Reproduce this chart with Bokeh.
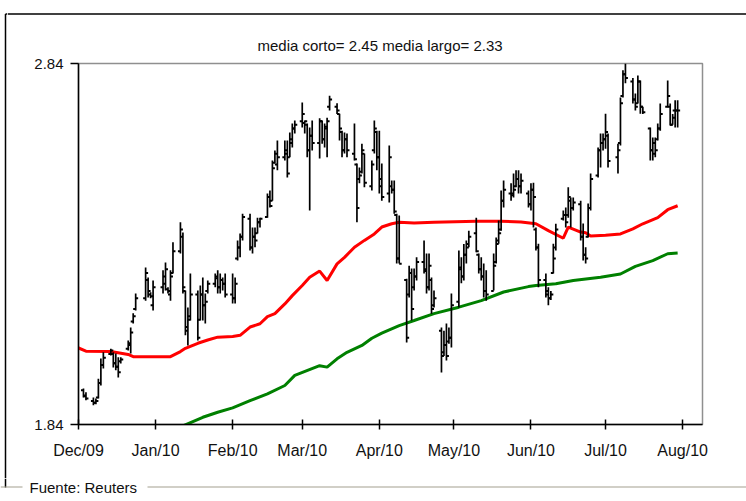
import pandas as pd
from bokeh.plotting import figure
from bokeh.layouts import column, row
from bokeh.models import (Range1d, FixedTicker, DatetimeTickFormatter, ColumnDataSource)
from bokeh.embed import file_html
from bokeh.resources import INLINE
from bokeh.core.properties import value

# ---------------- data ----------------
title_text = "media corto= 2.45 media largo= 2.33"
source_note = "Fuente: Reuters"
y_tick_values = [1.84, 2.84]
x_tick_dates = ["2009-12-01", "2010-01-01", "2010-02-01", "2010-03-01", "2010-04-01",
                "2010-05-01", "2010-06-01", "2010-07-01", "2010-08-01"]
x_tick_labels = ["Dec/09", "Jan/10", "Feb/10", "Mar/10", "Apr/10",
                 "May/10", "Jun/10", "Jul/10", "Aug/10"]
first_day, last_day = "2009-12-03", "2010-07-30"
market_holidays = ["2009-12-25", "2010-01-01", "2010-07-05"]

high = [
    # Dec
    1.940, 1.929, 1.915, 1.912, 1.967, 2.023, 2.040, 2.050, 2.040, 2.037,
    2.026, 2.026, 2.073, 2.109, 2.148, 2.203, 2.275, 2.247, 2.206, 2.239,
    # Jan
    2.267, 2.289, 2.220, 2.267, 2.345, 2.400, 2.372, 2.211, 2.164, 2.258,
    2.211, 2.225, 2.247, 2.203, 2.239, 2.258, 2.267, 2.258, 2.247, 2.258,
    # Feb
    2.258, 2.247, 2.350, 2.369, 2.424, 2.424, 2.386, 2.386, 2.413, 2.413,
    2.480, 2.488, 2.571, 2.599, 2.627, 2.627, 2.627, 2.649, 2.674, 2.682,
    # Mar
    2.732, 2.682, 2.674, 2.663, 2.682, 2.688, 2.682, 2.674, 2.690, 2.751,
    2.730, 2.701, 2.654, 2.649, 2.646, 2.674, 2.563, 2.552, 2.618, 2.591,
    2.571, 2.682, 2.654,
    # Apr
    2.654, 2.563, 2.613, 2.516, 2.516, 2.424, 2.419, 2.244, 2.280, 2.272,
    2.272, 2.303, 2.350, 2.314, 2.314, 2.247, 2.211, 2.109, 2.100, 2.120,
    2.109, 2.203,
    # May
    2.322, 2.303, 2.340, 2.350, 2.377, 2.413, 2.314, 2.303, 2.286, 2.267,
    2.314, 2.358, 2.405, 2.488, 2.516, 2.508, 2.535, 2.544, 2.544, 2.535,
    2.488,
    # Jun
    2.508, 2.510, 2.386, 2.341, 2.258, 2.220, 2.210, 2.341, 2.396, 2.433,
    2.441, 2.497, 2.469, 2.469, 2.460, 2.397, 2.331, 2.452, 2.535, 2.607,
    2.646, 2.646,
    # Jul
    2.701, 2.646, 2.618, 2.746, 2.821, 2.840, 2.800, 2.757, 2.807, 2.793,
    2.720, 2.663, 2.635, 2.635, 2.674, 2.729, 2.793, 2.729, 2.700, 2.738,
    2.738,
]
low = [
    1.915, 1.907, 1.893, 1.896, 1.912, 1.948, 1.995, 2.031, 1.998, 1.990,
    1.970, 2.009, 2.045, 2.037, 2.120, 2.156, 2.183, 2.192, 2.190, 2.156,
    2.203, 2.211, 2.203, 2.183, 2.258, 2.314, 2.203, 2.087, 2.059, 2.128,
    2.073, 2.128, 2.128, 2.120, 2.203, 2.220, 2.203, 2.203, 2.211, 2.192,
    2.175, 2.175, 2.294, 2.303, 2.350, 2.322, 2.314, 2.331, 2.369, 2.386,
    2.413, 2.441, 2.460, 2.563, 2.544, 2.571, 2.524, 2.580, 2.607, 2.646,
    2.663, 2.646, 2.580, 2.433, 2.599, 2.577, 2.618, 2.607, 2.580, 2.710,
    2.700, 2.627, 2.580, 2.591, 2.580, 2.571, 2.400, 2.508, 2.535, 2.497,
    2.488, 2.591, 2.544,
    2.480, 2.460, 2.455, 2.480, 2.424, 2.286, 2.286, 2.067, 2.192, 2.128,
    2.211, 2.239, 2.258, 2.203, 2.211, 2.147, 2.164, 1.984, 2.030, 2.017,
    2.064, 2.053,
    2.164, 2.231, 2.239, 2.286, 2.331, 2.317, 2.258, 2.239, 2.192, 2.183,
    2.211, 2.286, 2.341, 2.377, 2.441, 2.460, 2.469, 2.497, 2.480, 2.480,
    2.441,
    2.433, 2.386, 2.322, 2.220, 2.192, 2.170, 2.185, 2.258, 2.322, 2.405,
    2.386, 2.413, 2.386, 2.433, 2.350, 2.294, 2.286, 2.358, 2.433, 2.524,
    2.552, 2.599,
    2.604, 2.552, 2.535, 2.613, 2.746, 2.785, 2.729, 2.710, 2.729, 2.701,
    2.700, 2.571, 2.571, 2.580, 2.627, 2.654, 2.718, 2.668, 2.670, 2.663,
    2.663,
]
open_ = [
    1.935, 1.918, 1.905, 1.900, 1.915, 1.955, 2.005, 2.035, 2.035, 2.010,
    2.000, 2.015, 2.050, 2.060, 2.125, 2.160, 2.190, 2.240, 2.200, 2.170,
    2.220, 2.230, 2.215, 2.200, 2.260, 2.320, 2.360, 2.210, 2.100, 2.140,
    2.200, 2.130, 2.200, 2.170, 2.210, 2.230, 2.250, 2.220, 2.240, 2.230,
    2.200, 2.190, 2.300, 2.330, 2.360, 2.410, 2.330, 2.360, 2.370, 2.400,
    2.415, 2.470, 2.460, 2.565, 2.560, 2.580, 2.600, 2.580, 2.620, 2.660,
    2.680, 2.675, 2.670, 2.600, 2.640, 2.620, 2.680, 2.630, 2.660, 2.720,
    2.720, 2.700, 2.650, 2.600, 2.630, 2.590, 2.560, 2.520, 2.540, 2.590,
    2.500, 2.600, 2.650,
    2.580, 2.500, 2.480, 2.500, 2.490, 2.420, 2.300, 2.240, 2.200, 2.260,
    2.220, 2.250, 2.290, 2.270, 2.220, 2.240, 2.170, 2.100, 2.040, 2.060,
    2.070, 2.080,
    2.180, 2.270, 2.250, 2.310, 2.340, 2.370, 2.310, 2.270, 2.250, 2.210,
    2.210, 2.290, 2.350, 2.380, 2.460, 2.480, 2.480, 2.500, 2.520, 2.500,
    2.480,
    2.450, 2.490, 2.380, 2.330, 2.240, 2.200, 2.190, 2.260, 2.330, 2.410,
    2.420, 2.420, 2.460, 2.440, 2.450, 2.360, 2.310, 2.360, 2.440, 2.530,
    2.600, 2.620,
    2.630, 2.640, 2.580, 2.620, 2.750, 2.810, 2.790, 2.740, 2.730, 2.790,
    2.720, 2.660, 2.600, 2.620, 2.630, 2.660, 2.720, 2.720, 2.670, 2.710,
    2.710,
]
close = [
    1.920, 1.912, 1.900, 1.905, 1.955, 2.005, 2.025, 2.045, 2.010, 2.000,
    1.985, 2.020, 2.065, 2.095, 2.140, 2.190, 2.260, 2.210, 2.195, 2.220,
    2.250, 2.270, 2.210, 2.250, 2.320, 2.380, 2.220, 2.110, 2.130, 2.200,
    2.080, 2.200, 2.170, 2.180, 2.230, 2.245, 2.220, 2.240, 2.230, 2.200,
    2.190, 2.230, 2.330, 2.360, 2.415, 2.330, 2.360, 2.350, 2.400, 2.410,
    2.470, 2.445, 2.550, 2.590, 2.580, 2.590, 2.535, 2.630, 2.660, 2.670,
    2.700, 2.680, 2.600, 2.640, 2.620, 2.680, 2.630, 2.665, 2.680, 2.740,
    2.710, 2.660, 2.600, 2.630, 2.600, 2.575, 2.440, 2.530, 2.600, 2.510,
    2.560, 2.660, 2.580,
    2.520, 2.470, 2.580, 2.490, 2.430, 2.300, 2.285, 2.080, 2.260, 2.160,
    2.250, 2.290, 2.265, 2.220, 2.280, 2.160, 2.190, 2.030, 2.060, 2.030,
    2.080, 2.170,
    2.275, 2.250, 2.310, 2.330, 2.360, 2.320, 2.270, 2.250, 2.210, 2.200,
    2.280, 2.340, 2.370, 2.460, 2.490, 2.475, 2.490, 2.520, 2.500, 2.515,
    2.450,
    2.490, 2.470, 2.330, 2.240, 2.210, 2.190, 2.200, 2.300, 2.380, 2.420,
    2.400, 2.470, 2.440, 2.455, 2.360, 2.310, 2.300, 2.440, 2.520, 2.600,
    2.620, 2.630,
    2.650, 2.570, 2.600, 2.730, 2.810, 2.800, 2.740, 2.720, 2.790, 2.720,
    2.705, 2.600, 2.590, 2.600, 2.660, 2.700, 2.750, 2.670, 2.690, 2.710,
    2.710,
]

ma_short_dates = [
    "2009-12-01", "2009-12-04", "2009-12-14", "2009-12-21", "2009-12-23",
    "2010-01-07", "2010-01-11", "2010-01-13", "2010-01-18", "2010-01-22",
    "2010-01-26", "2010-02-01", "2010-02-04", "2010-02-08", "2010-02-12",
    "2010-02-15", "2010-02-18", "2010-02-22", "2010-02-25", "2010-03-01",
    "2010-03-04", "2010-03-08", "2010-03-11", "2010-03-15", "2010-03-18",
    "2010-03-22", "2010-03-26", "2010-03-30", "2010-04-02", "2010-04-06",
    "2010-04-09", "2010-04-15", "2010-04-23", "2010-05-10", "2010-05-20",
    "2010-05-28", "2010-06-03", "2010-06-08", "2010-06-14", "2010-06-16",
    "2010-06-21", "2010-06-23", "2010-06-25", "2010-07-01", "2010-07-07",
    "2010-07-12", "2010-07-16", "2010-07-22", "2010-07-26", "2010-07-30",
]
ma_short = [
    2.052, 2.043, 2.042, 2.034, 2.028,
    2.028, 2.042, 2.051, 2.065, 2.074,
    2.082, 2.084, 2.087, 2.110, 2.119,
    2.139, 2.147, 2.174, 2.197, 2.225,
    2.248, 2.265, 2.239, 2.285, 2.303,
    2.331, 2.350, 2.368, 2.387, 2.396,
    2.400, 2.398, 2.400, 2.403, 2.403,
    2.401, 2.396, 2.377, 2.356, 2.387,
    2.373, 2.371, 2.362, 2.364, 2.368,
    2.382, 2.396, 2.413, 2.435, 2.446,
]
ma_long_dates = [
    "2010-01-12", "2010-01-20", "2010-01-26", "2010-02-01", "2010-02-08",
    "2010-02-15", "2010-02-22", "2010-02-26", "2010-03-08", "2010-03-11",
    "2010-03-15", "2010-03-19", "2010-03-25", "2010-03-29", "2010-04-02",
    "2010-04-09", "2010-04-15", "2010-04-23", "2010-05-03", "2010-05-12",
    "2010-05-21", "2010-05-31", "2010-06-03", "2010-06-11", "2010-06-18",
    "2010-06-29", "2010-07-07", "2010-07-13", "2010-07-20", "2010-07-26",
    "2010-07-30",
]
ma_long = [
    1.836, 1.860, 1.874, 1.886, 1.906,
    1.925, 1.948, 1.976, 2.003, 1.999,
    2.022, 2.040, 2.059, 2.079, 2.093,
    2.114, 2.128, 2.147, 2.165, 2.183,
    2.207, 2.222, 2.225, 2.230, 2.239,
    2.248, 2.257, 2.278, 2.294, 2.313,
    2.315,
]

FONT = "Liberation Sans"


def no_align(fig):
    if "frame_align" in fig.properties():
        fig.frame_align = False


def blank(width, height, x_range, y_range):
    f = figure(width=width, height=height, x_range=x_range, y_range=y_range,
               output_backend="svg", toolbar_location=None, title=None,
               x_axis_location=None, y_axis_location=None, min_border=0)
    f.grid.visible = False
    f.outline_line_color = None
    f.background_fill_color = "white"
    f.border_fill_color = "white"
    no_align(f)
    return f


# ---------------- main chart ----------------
days = [d for d in pd.bdate_range(first_day, last_day)
        if d.strftime("%Y-%m-%d") not in market_holidays]
n = min(len(days), len(high), len(low), len(open_), len(close))
days = pd.DatetimeIndex(days[:n])
tick_half = pd.Timedelta(hours=24)
src = ColumnDataSource(dict(
    d=days, dl=days - tick_half, dr=days + tick_half,
    h=high[:n], l=low[:n], o=open_[:n], c=close[:n]))

p = figure(width=739, height=463, x_axis_type="datetime",
           output_backend="svg", toolbar_location=None,
           x_range=Range1d(pd.Timestamp("2009-12-01"), pd.Timestamp("2010-08-09")),
           y_range=Range1d(1.84, 2.84),
           min_border_left=71, min_border_right=44,
           min_border_top=48, min_border_bottom=54)
no_align(p)
p.background_fill_color = "white"
p.border_fill_color = "white"
p.grid.visible = False
p.outline_line_color = "#8f8f8f"
p.outline_line_width = 1.5

p.title.text = title_text
p.title.align = "left"
p.title.offset = 179
p.title.standoff = 19
p.title.text_font = FONT
p.title.text_font_size = "15px"
p.title.text_font_style = "normal"
p.title.text_color = "#111111"

tick_ms = [int(pd.Timestamp(t).value // 10**6) for t in x_tick_dates]
xa = p.xaxis[0]
xa.ticker = FixedTicker(ticks=tick_ms)
xa.formatter = DatetimeTickFormatter(days="%b/%y", months="%b/%y", years="%b/%y")
xa.major_label_overrides = {k: v for k, v in zip(tick_ms, x_tick_labels)}
xa.major_tick_in = 5
xa.major_tick_out = 5
xa.major_label_standoff = 12
xa.major_label_text_font_size = "16px"

ya = p.yaxis[0]
ya.ticker = FixedTicker(ticks=y_tick_values)
ya.major_tick_in = 0
ya.major_tick_out = 8
ya.major_label_standoff = 7
ya.major_label_text_font_size = "15px"

for ax in (xa, ya):
    ax.minor_tick_in = 0
    ax.minor_tick_out = 0
    ax.axis_line_color = "black"
    ax.axis_line_width = 1.5
    ax.major_tick_line_color = "black"
    ax.major_tick_line_width = 1.5
    ax.major_label_text_font = FONT
    ax.major_label_text_color = "#111111"

p.line(pd.to_datetime(ma_short_dates), ma_short, line_color="#ff0000", line_width=3)
p.line(pd.to_datetime(ma_long_dates), ma_long, line_color="#008000", line_width=3)

p.segment(x0="d", y0="l", x1="d", y1="h", source=src, line_color="black", line_width=1.7)
p.segment(x0="dl", y0="o", x1="d", y1="o", source=src, line_color="black", line_width=2)
p.segment(x0="d", y0="c", x1="dr", y1="c", source=src, line_color="black", line_width=2)

# ---------------- outer frame & footer (page pixel coordinates) ----------------
left_strip = blank(7, 478, Range1d(0, 7), Range1d(478, 0))
left_strip.segment(x0=[5], y0=[13.5], x1=[5], y1=[478], line_color="black", line_width=1.5)
left_strip.segment(x0=[5], y0=[13.5], x1=[7], y1=[13.5], line_color="black", line_width=1.5)

top_strip = blank(739, 15, Range1d(7, 746), Range1d(15, 0))
top_strip.segment(x0=[7], y0=[13.5], x1=[746], y1=[13.5], line_color="black", line_width=1.5)

footer = blank(746, 23, Range1d(0, 746), Range1d(501, 478))
footer.segment(x0=[5], y0=[478], x1=[5], y1=[487], line_color="black", line_width=1.5)
footer.segment(x0=[0, 147], y0=[486.5, 486.5], x1=[22, 746], y1=[486.5, 486.5],
               line_color="#a39f8f", line_width=1.2)
footer.text(x=[29], y=[486.5], text=[source_note], text_font=value(FONT),
            text_font_size="15px", text_baseline="middle", text_align="left",
            text_color="#111111")

layout = column(row(left_strip, column(top_strip, p)), footer)

open("out.html", "w").write(file_html(layout, INLINE))
